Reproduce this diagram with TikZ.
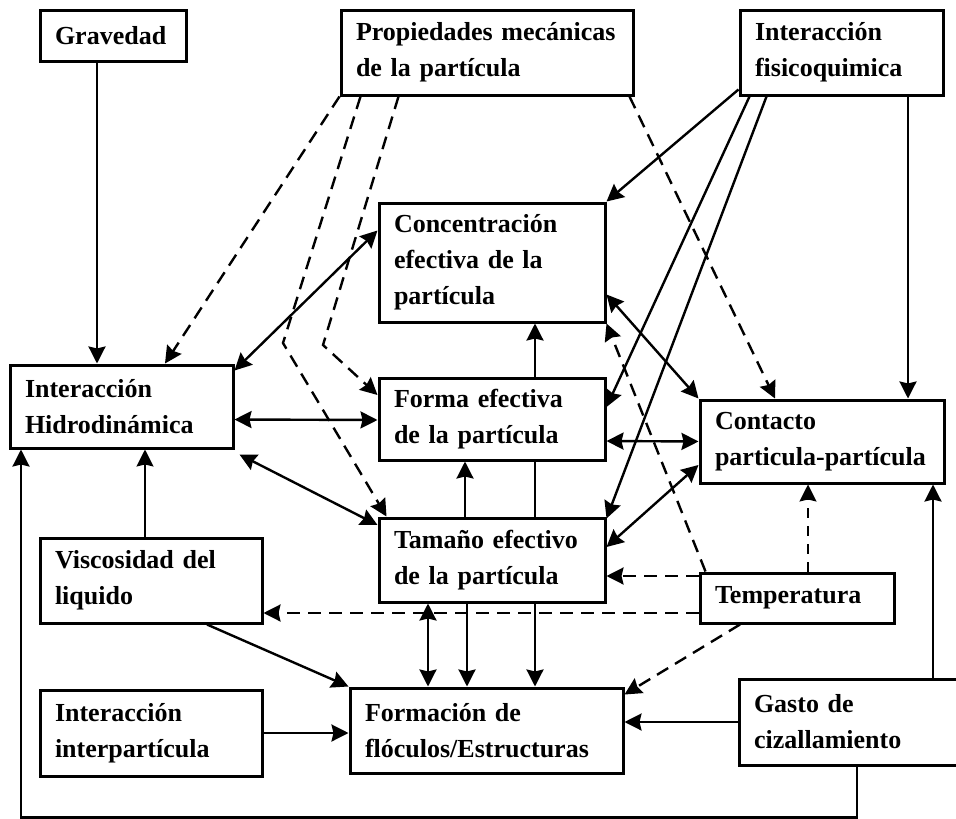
\documentclass[tikz,border=0pt]{standalone}
\usepackage{fontspec}
\setmainfont{Liberation Serif}
\usetikzlibrary{arrows.meta}

\tikzstyle{caja} = [rectangle, draw=black, line width=3pt, inner xsep=15pt, inner ysep=3pt, align=left, font=\bfseries\fontsize{26}{36}\selectfont]
\tikzstyle{flecha} = [line width=2.4pt, -{Stealth[length=17pt,width=17pt,inset=2pt]}]
\tikzstyle{doble} = [line width=2.4pt, {Stealth[length=17pt,width=17pt,inset=2pt]}-{Stealth[length=17pt,width=17pt,inset=2pt]}]
\tikzstyle{trazos} = [flecha, dash pattern=on 13pt off 8pt]
\tikzstyle{fein} = [flecha, line width=1.5pt]

\begin{document}
\begin{tikzpicture}[x=1pt, y=-1pt]
	\useasboundingbox (0,0) rectangle (956,819);

	\node (grav)  [caja, text width=116pt, minimum height=51pt]  at (113,35.5)   {Gravedad};
	\node (prop)  [caja, text width=262pt, minimum height=85pt]  at (487,52.5)   {Propiedades mecánicas\\de la partícula};
	\node (fisi)  [caja, text width=173pt, minimum height=85pt]  at (841.5,52.5) {Interacción\\fisicoquimica};
	\node (conc)  [caja, text width=196pt, minimum height=119pt] at (492,262.5)  {Concentración\\efectiva de la\\partícula};
	\node (hidro) [caja, text width=193pt, minimum height=83pt]  at (121.5,406.5) {Interacción\\Hidrodinámica};
	\node (forma) [caja, text width=196pt, minimum height=82pt]  at (492,419)    {Forma efectiva\\de la partícula};
	\node (cont)  [caja, text width=214pt, minimum height=83pt]  at (822,441.5)  {Contacto\\particula-partícula};
	\node (tam)   [caja, text width=196pt, minimum height=84pt]  at (492,560)    {Tamaño efectivo\\de la partícula};
	\node (visc)  [caja, text width=192pt, minimum height=85pt]  at (151,580.5)  {Viscosidad del\\liquido};
	\node (temp)  [caja, text width=164pt, minimum height=50pt]  at (797,598)    {Temperatura};
	\node (inter) [caja, text width=192pt, minimum height=86pt]  at (151,733)    {Interacción\\interpartícula};
	\node (floc)  [caja, text width=243pt, minimum height=85pt]  at (486.5,730.5) {Formación de\\flóculos/Estructuras};
	\node (gasto) [caja, text width=205pt, minimum height=86pt]  at (856.5,722)  {Gasto de\\cizallamiento};

	\coordinate (knickA) at (283,343);
	\coordinate (knickB) at (323,345);

	% Einfluesse von oben
	\draw[flecha] ([xshift=-16pt]grav.south) -- ([xshift=-24.5pt]hidro.north);
	\draw[trazos] (prop.south west) -- ([xshift=43.5pt]hidro.north);
	\draw[trazos] ([xshift=21pt]prop.south west) -- (knickA) -- ([xshift=9pt]tam.north west);
	\draw[trazos] ([xshift=59pt]prop.south west) -- (knickB) -- ([yshift=24pt]forma.west);
	\draw[trazos] ([xshift=-5pt]prop.south east) -- ([xshift=-47pt]cont.north);
	\draw[flecha] ([yshift=7pt]fisi.south west) -- (conc.north east);
	\draw[flecha] ([xshift=11pt]fisi.south west) -- ([yshift=12pt]forma.east);
	\draw[flecha] ([xshift=28pt]fisi.south west) -- ([yshift=-2pt]tam.north east);
	\draw[flecha] ([xshift=66.5pt]fisi.south) -- ([xshift=86pt]cont.north);

	% Hidrodinamica
	\draw[doble] ([yshift=32pt]conc.west) -- ([yshift=-7pt]hidro.north east);
	\draw[doble] ([yshift=-13pt]hidro.east) -- ([yshift=-1pt]forma.west);
	\draw[doble] ([shift={(5pt,-5pt)}]hidro.south east) -- ([yshift=35pt]tam.west);

	% Contacto
	\draw[doble] ([yshift=-32pt]conc.east) -- (cont.north west);
	\draw[doble] ([yshift=-22pt]forma.east) -- (cont.west);
	\draw[doble] ([yshift=13pt]tam.east) -- ([yshift=-23.5pt]cont.west);

	% Temperatura
	\draw[trazos] ([xshift=7pt]temp.north west) -- (conc.south east);
	\draw[trazos] ([yshift=22pt]temp.west) -- ([yshift=-16pt]tam.east);
	\draw[trazos] ([yshift=-15pt]temp.west) -- ([yshift=-32.5pt]visc.east);
	\draw[fein, dash pattern=on 10pt off 8pt] ([xshift=11pt]temp.north) -- ([xshift=-14pt]cont.south);
	\draw[trazos] ([xshift=-57pt]temp.south) -- ([yshift=-8pt]floc.north east);

	% Gasto de cizallamiento
	\draw[flecha] (gasto.west) -- ([yshift=8.5pt]floc.east);
	\draw[flecha] ([xshift=76.5pt]gasto.north) -- ([xshift=111pt]cont.south);
	\draw[flecha] ([xshift=0.5pt]gasto.south) -- ++(0,51) -| ([xshift=-100.5pt]hidro.south);

	% links unten
	\draw[fein] ([xshift=-6pt]visc.north) -- ([xshift=23.5pt]hidro.south);
	\draw[flecha] ([xshift=56pt]visc.south) -- (floc.north west);
	\draw[flecha] (inter.east) -- ([yshift=-2.5pt]floc.west);

	% Tamano
	\draw[doble] ([xshift=-64pt]tam.south) -- ([xshift=-58.5pt]floc.north);
	\draw[flecha] ([xshift=-25pt]tam.south) -- ([xshift=-19.5pt]floc.north);
	\draw[flecha] ([xshift=43pt]tam.south) -- ([xshift=48.5pt]floc.north);
	\draw[flecha] ([xshift=-27pt]tam.north) -- ([xshift=-27pt]forma.south);
	\draw[line width=2.4pt] ([xshift=43pt]tam.north) -- ([xshift=43pt]forma.south);
	\draw[flecha] ([xshift=43pt]forma.north) -- ([xshift=43pt]conc.south);
\end{tikzpicture}
\end{document}
